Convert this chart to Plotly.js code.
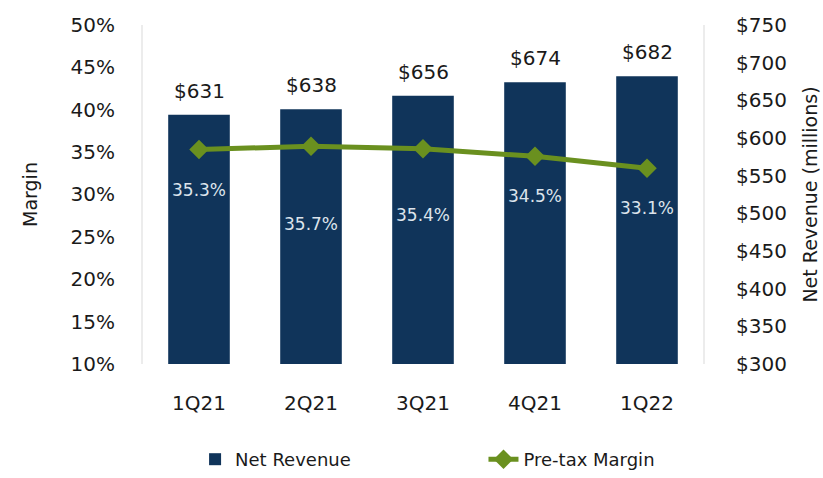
<!DOCTYPE html>
<html>
<head>
<meta charset="utf-8">
<script src="https://cdn.plot.ly/plotly-3.0.1.min.js"></script>
<style>html,body{margin:0;padding:0;background:#fff;}#chart{width:823px;height:478px;}</style>
</head>
<body>
<div id="chart"></div>
<script>
const quarters = ["1Q21", "2Q21", "3Q21", "4Q21", "1Q22"];
const netRevenue = [631, 638, 656, 674, 682];
const pretaxMargin = [35.3, 35.7, 35.4, 34.5, 33.1];
const revenueLabels = ["$631", "$638", "$656", "$674", "$682"];
const marginLabels = ["35.3%", "35.7%", "35.4%", "34.5%", "33.1%"];
const marginLabelShift = [-40, -78, -66, -40, -40];

const FONT = "DejaVu Sans";
const NAVY = "#10345a";
const GREEN = "#6a901f";

const traces = [
  {
    type: "bar", name: "Net Revenue", x: quarters, y: netRevenue,
    yaxis: "y", marker: {color: NAVY}, width: 0.55, hoverinfo: "skip",
    legend: "legend"
  },
  {
    type: "scatter", mode: "lines+markers", name: "Pre-tax Margin",
    x: quarters, y: pretaxMargin, yaxis: "y2",
    line: {color: GREEN, width: 5},
    marker: {symbol: "diamond", size: 15, color: GREEN},
    hoverinfo: "skip", legend: "legend2"
  }
];

const annotations = [];
quarters.forEach((q, i) => {
  annotations.push({
    x: q, y: netRevenue[i], xref: "x", yref: "y", text: revenueLabels[i],
    showarrow: false, yanchor: "bottom", yshift: 10,
    font: {family: FONT, size: 20, color: "#1a1a1a"}
  });
  annotations.push({
    x: q, y: pretaxMargin[i], xref: "x", yref: "y2", text: marginLabels[i],
    showarrow: false, yanchor: "middle", yshift: marginLabelShift[i],
    font: {family: FONT, size: 17, color: "#dde4ec"}
  });
});

const legendFont = {family: FONT, size: 18, color: "#1a1a1a"};

const layout = {
  width: 823, height: 478,
  margin: {l: 143, r: 120, t: 25, b: 0},
  paper_bgcolor: "#fff", plot_bgcolor: "#fff",
  font: {family: FONT, size: 20, color: "#1a1a1a"},
  showlegend: true,
  legend: {
    orientation: "h", x: 0.093, xanchor: "left", y: 0, yanchor: "bottom",
    font: legendFont
  },
  legend2: {
    orientation: "h", x: 0.608, xanchor: "left", y: 0, yanchor: "bottom",
    font: legendFont
  },
  xaxis: {
    type: "category", showgrid: false, showline: false, zeroline: false,
    ticks: "", ticklabelstandoff: 25,
    tickfont: {family: FONT, size: 20, color: "#1a1a1a"}
  },
  yaxis: {
    side: "right", range: [300, 750], dtick: 50, tickprefix: "$",
    domain: [0.2517, 1],
    showgrid: false, zeroline: false, showline: true, linecolor: "#ececec", linewidth: 2,
    ticks: "", ticklabelstandoff: 27,
    tickfont: {family: FONT, size: 20, color: "#1a1a1a"},
    title: {text: "Net Revenue (millions)", standoff: 18, font: {family: FONT, size: 19, color: "#1a1a1a"}}
  },
  yaxis2: {
    side: "left", overlaying: "y", range: [10, 50], dtick: 5, ticksuffix: "%",
    showgrid: false, zeroline: false, showline: true, linecolor: "#ececec", linewidth: 2,
    ticks: "", ticklabelstandoff: 22,
    tickfont: {family: FONT, size: 20, color: "#1a1a1a"},
    title: {text: "Margin", standoff: 28, font: {family: FONT, size: 19, color: "#1a1a1a"}}
  },
  annotations: annotations
};

Plotly.newPlot("chart", traces, layout, {displayModeBar: false, staticPlot: true});
</script>
</body>
</html>
